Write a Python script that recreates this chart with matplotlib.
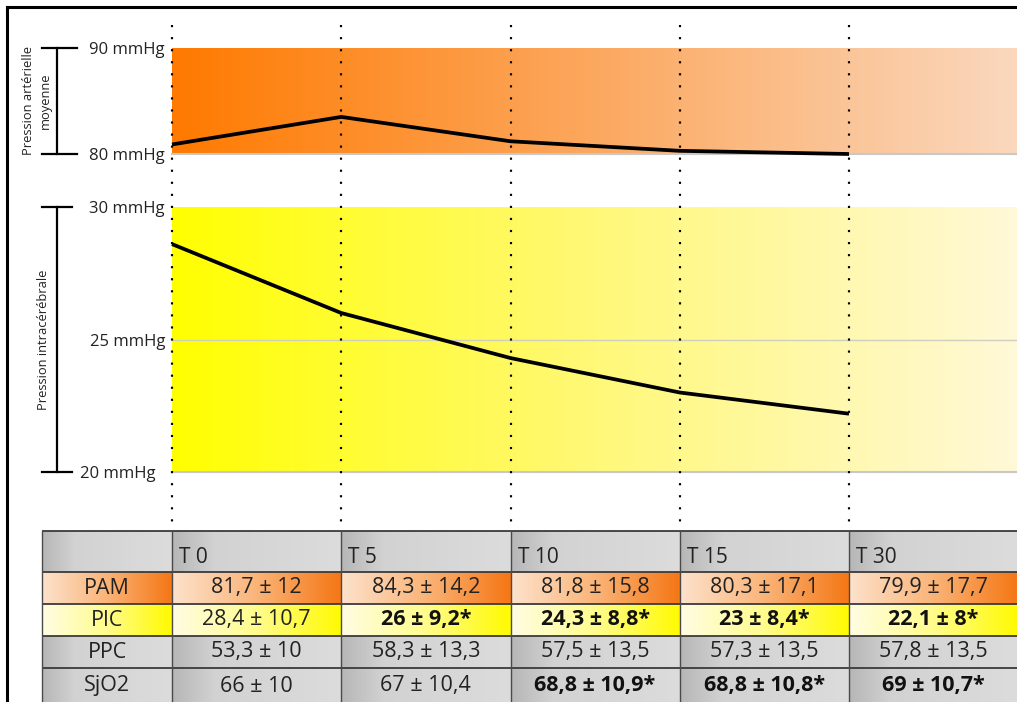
import numpy as np
import matplotlib.pyplot as plt

plt.rcParams['font.family'] = ['Open Sans', 'DejaVu Sans']

# data
times = ['T 0', 'T 5', 'T 10', 'T 15', 'T 30']
pam_curve = [80.9, 83.5, 81.2, 80.3, 80.0]
pic_curve = [28.6, 26.0, 24.3, 23.0, 22.2]
pam_ticks = [80, 90]
pic_ticks = [20, 25, 30]

row_names = ['PAM', 'PIC', 'PPC', 'SjO2']
pam_cells = ['81,7 ± 12', '84,3 ± 14,2', '81,8 ± 15,8', '80,3 ± 17,1',
             '79,9 ± 17,7']
pic_cells = ['28,4 ± 10,7', '26 ± 9,2*', '24,3 ± 8,8*', '23 ± 8,4*',
             '22,1 ± 8*']
ppc_cells = ['53,3 ± 10', '58,3 ± 13,3', '57,5 ± 13,5', '57,3 ± 13,5',
             '57,8 ± 13,5']
sjo2_cells = ['66 ± 10', '67 ± 10,4', '68,8 ± 10,9*', '68,8 ± 10,8*',
              '69 ± 10,7*']
table_rows = [pam_cells, pic_cells, ppc_cells, sjo2_cells]

# layout (pixels)
W, H = 1017, 702
X0 = 172.0            # x of T 0
STEP = 169.25         # spacing between time columns
idx = np.arange(len(times))

fig = plt.figure(figsize=(W / 100, H / 100), dpi=100)


def px_axes(left, top, right, bottom, **kw):
    return fig.add_axes([left / W, 1 - bottom / H, (right - left) / W,
                         (bottom - top) / H], **kw)


def px2x(px):
    return (px - X0) / STEP


def hgrad(stops, n=256):
    pos = np.linspace(0, 1, n)
    ps = [s[0] for s in stops]
    cols = np.array([s[1] for s in stops], dtype=float) / 255.
    out = np.stack([np.interp(pos, ps, cols[:, k]) for k in range(3)], axis=-1)
    return out[np.newaxis, :, :]


x_right = px2x(W)
x_left = px2x(0)
txt_col = '#222222'


def band(ax, lo, hi, grad, ticks, curve, label, label_px, cap_end):
    ax.imshow(grad, extent=[0, x_right, lo, hi], aspect='auto',
              interpolation='bilinear', zorder=0)
    ax.plot(idx, curve, color='black', lw=2.7, solid_joinstyle='round',
            solid_capstyle='butt', zorder=3, clip_on=False)
    ax.axhline(lo, color='#c8c8c8', lw=1.5, zorder=1, clip_on=False)
    ax.set_xlim(0, x_right)
    ax.set_ylim(lo, hi)
    for s in ax.spines.values():
        s.set_visible(False)
    ax.set_xticks([])
    ax.set_yticks(ticks)
    ax.set_yticklabels(['%d mmHg' % t for t in ticks], fontsize=12,
                       color=txt_col)
    ax.tick_params(axis='y', length=0, pad=5)
    # bracket on the left
    trans = ax.get_yaxis_transform()
    axw = W - X0
    xb = (57 - X0) / axw
    ax.plot([xb, xb], [lo, hi], color='black', lw=1.6, transform=trans,
            clip_on=False)
    for yv in (lo, hi):
        ax.plot([(42 - X0) / axw, (cap_end - X0) / axw], [yv, yv],
                color='black', lw=1.6, transform=trans, clip_on=False)
    ax.text((label_px - X0) / axw, (lo + hi) / 2., label, rotation=90,
            ha='center', va='center', fontsize=9.3, linespacing=1.4,
            color=txt_col, transform=trans)


ax_pam = px_axes(X0, 48, W, 154)
band(ax_pam, 80, 90,
     hgrad([(0, (255, 122, 0)), (0.5, (252, 168, 95)), (1, (250, 216, 190))]),
     pam_ticks, pam_curve, 'Pression artérielle\nmoyenne', 37, 77)

ax_pic = px_axes(X0, 207, W, 472)
band(ax_pic, 20, 30,
     hgrad([(0, (255, 255, 0)), (0.5, (255, 248, 120)), (1, (255, 249, 215))]),
     pic_ticks, pic_curve, 'Pression intracérébrale', 44, 72)
ax_pic.axhline(25, color='#cfcfc0', lw=1, zorder=1)
# the 20 mmHg label sits a bit further left
ax_pic.yaxis.get_major_ticks()[0].set_pad(12)

# overlay: dotted guides, table, frame
ax = fig.add_axes([0, 0, 1, 1], zorder=5)
ax.patch.set_alpha(0)
ax.axis('off')

ax.vlines(idx, 25, 531, colors='black', linestyles=(0, (1, 4.6)),
          linewidth=1.55)

row_y = [531, 572, 604, 636, 668, 704]
gray = hgrad([(0, (182, 182, 182)), (0.25, (210, 210, 210)),
              (1, (220, 220, 220))])
orange = hgrad([(0, (253, 226, 204)), (0.5, (250, 180, 120)),
                (1, (245, 118, 20))])
yellow = hgrad([(0, (255, 252, 228)), (0.5, (255, 252, 140)),
                (1, (255, 250, 0))])
row_grads = [gray, orange, yellow, gray, gray]

col_edges = [px2x(42)] + list(idx) + [len(times)]
for r in range(len(row_y) - 1):
    top, bot = row_y[r], row_y[r + 1]
    for c in range(len(col_edges) - 1):
        ax.imshow(row_grads[r], extent=[col_edges[c], col_edges[c + 1],
                                        bot, top],
                  aspect='auto', interpolation='bilinear', zorder=1)

for t, name in zip(idx, times):
    ax.text(t + px2x(X0 + 7), (row_y[0] + row_y[1]) / 2. + 6, name,
            ha='left', va='center', fontsize=15, color=txt_col, zorder=4)

for r, (name, cells) in enumerate(zip(row_names, table_rows)):
    yc = (row_y[r + 1] + row_y[r + 2]) / 2.
    ax.text(col_edges[0] / 2., yc, name, ha='center', va='center',
            fontsize=15.5, color=txt_col, zorder=4)
    for t, val in zip(idx, cells):
        star = val.endswith('*')
        ax.text(t + 0.5, yc, val, ha='center', va='center', fontsize=15.5,
                color='#111111' if star else txt_col,
                fontweight='bold' if star else 'normal', zorder=4)

ax.hlines(row_y[:-1], col_edges[0], x_right, colors='#3a3a3a', lw=1.3,
          zorder=3)
ax.vlines(col_edges[:-1], row_y[0], row_y[-1], colors='#4a4a4a', lw=1.0,
          zorder=3)

# frame lines at top and left
ax.plot([px2x(7), x_right], [6.5, 6.5], color='black', lw=2.2, zorder=6)
ax.plot([px2x(7), px2x(7)], [6.5, H], color='black', lw=2.2, zorder=6)

ax.set_xlim(x_left, x_right)
ax.set_ylim(H, 0)

plt.savefig('out.png', dpi=100)
